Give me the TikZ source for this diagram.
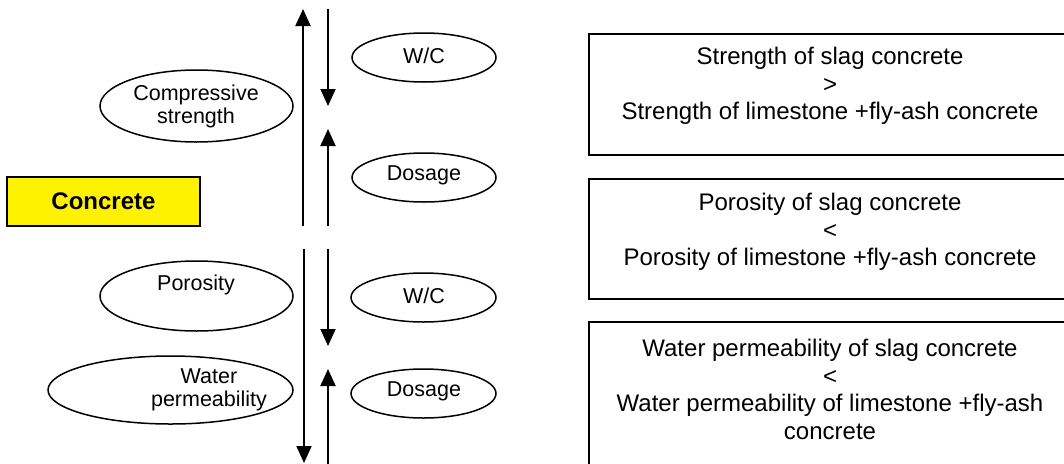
\documentclass[tikz,border=0pt]{standalone}
\usepackage{fontspec}
\setmainfont{Liberation Sans}
\usetikzlibrary{arrows.meta,shapes.geometric}
\begin{document}
\begin{tikzpicture}[x=1pt,y=-1pt,
  oval/.style={draw=black,line width=1.5pt,ellipse,inner sep=0pt},
  otext/.style={inner sep=0pt,align=center,font=\fontsize{21.5}{23}\selectfont},
  infobox/.style={draw=black,line width=1.5pt,rectangle,anchor=north west,inner sep=0pt},
  btext/.style={inner sep=0pt,align=center,font=\fontsize{24}{27.5}\selectfont},
  flow/.style={line width=2pt,-{Triangle[length=17pt,width=15pt]}}]
\useasboundingbox (0,0) rectangle (1064,463);
\clip (0,0) rectangle (1064,463);

% material box
\node[draw=black,line width=1.5pt,fill=yellow,minimum width=193pt,minimum height=49pt,
      inner sep=0pt,font=\fontsize{24}{27}\selectfont\bfseries] (conc) at (103.5,201.5) {Concrete};

% property ellipses
\node[oval,minimum width=193pt,minimum height=72pt] (cs) at (196.5,106) {};
\node[otext] (cst) at (196,106) {Compressive\\strength};
\node[oval,minimum width=193pt,minimum height=70pt] (por) at (196.5,296) {};
\node[otext] (port) at (196,285) {Porosity};
\node[oval,minimum width=245pt,minimum height=68pt] (wp) at (170.5,390) {};
\node[otext] (wpt) at (209,390) {Water\\permeability};

% parameter ellipses
\node[oval,minimum width=144pt,minimum height=49pt] (wc1) at (424,57.5) {};
\node[otext] (wc1t) at (424,56) {W/C};
\node[oval,minimum width=144pt,minimum height=49pt] (ds1) at (424,177.5) {};
\node[otext] (ds1t) at (424,175) {Dosage};
\node[oval,minimum width=145pt,minimum height=49pt] (wc2) at (423.5,297.5) {};
\node[otext] (wc2t) at (424,296) {W/C};
\node[oval,minimum width=145pt,minimum height=49pt] (ds2) at (423.5,393.5) {};
\node[otext] (ds2t) at (424,391) {Dosage};

% arrow end points
\coordinate (a1s) at (303,226); \coordinate (a1e) at (303,9);
\coordinate (a2s) at (328,9);   \coordinate (a2e) at (328,106);
\coordinate (a3s) at (328,226); \coordinate (a3e) at (328,129);
\coordinate (a4s) at (304,249); \coordinate (a4e) at (304,463);
\coordinate (a5s) at (328,249); \coordinate (a5e) at (328,346);
\coordinate (a6s) at (328,470); \coordinate (a6e) at (328,369);
\draw[flow] (a1s) -- (a1e);
\draw[flow] (a2s) -- (a2e);
\draw[flow] (a3s) -- (a3e);
\draw[flow] (a4s) -- (a4e);
\draw[flow] (a5s) -- (a5e);
\draw[flow] (a6s) -- (a6e);

% comparison boxes
\node[infobox,minimum width=484pt,minimum height=121pt] (b1) at (588,33) {};
\node[btext] (b1t) at (830,86) {Strength of slag concrete\\>\\Strength of limestone +fly-ash concrete};
\node[infobox,minimum width=484pt,minimum height=120pt] (b2) at (588,178) {};
\node[btext] (b2t) at (830,232) {Porosity of slag concrete\\<\\Porosity of limestone +fly-ash concrete};
\node[infobox,minimum width=484pt,minimum height=160pt] (b3) at (588,321) {};
\node[btext] (b3t) at (830,389.5) {Water permeability of slag concrete\\<\\Water permeability of limestone +fly-ash\\concrete};
\end{tikzpicture}
\end{document}
